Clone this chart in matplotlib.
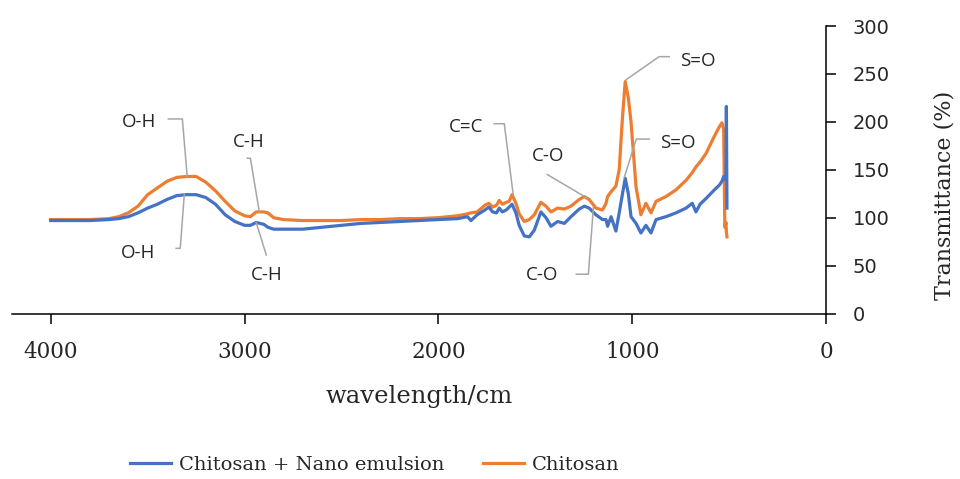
import matplotlib
matplotlib.use("Agg")
import matplotlib.pyplot as plt

# ---- data ----
wavenumber = [4000, 3800, 3700, 3650, 3600, 3550, 3500, 3450, 3400, 3350, 3300, 3250,
              3200, 3150, 3100, 3050, 3000, 2970, 2940, 2920, 2900, 2880, 2850, 2800,
              2700, 2600, 2500, 2400, 2300, 2200, 2100, 2000, 1900, 1850, 1832, 1800,
              1760, 1740, 1720, 1700, 1686, 1670, 1650, 1635, 1620, 1600, 1583, 1557,
              1531, 1505, 1471, 1445, 1419, 1385, 1350, 1316, 1273, 1247, 1222, 1187,
              1153, 1135, 1127, 1109, 1084, 1067, 1050, 1036, 1020, 1006, 980, 955,
              929, 903, 877, 826, 774, 722, 690, 671, 650, 619, 576, 550, 537, 528,
              522, 516, 514, 511]

chitosan = [98, 98, 99, 101, 105, 112, 124, 131, 138, 142, 143, 143,
            137, 128, 117, 107, 102, 101, 106, 106, 106, 105, 100, 98,
            97, 97, 97, 98, 98, 99, 99, 100, 102, 104, 105, 106,
            113, 115, 111, 113, 118, 114, 116, 117, 124, 115, 104, 96,
            98, 103, 116, 112, 106, 110, 109, 112, 119, 122, 119, 110,
            108, 115, 122, 127, 133, 150, 205, 242, 225, 200, 132, 103,
            115, 105, 117, 122, 129, 139, 147, 153, 158, 167, 185, 195, 199, 192,
            90, 95, 85, 80]

chitosan_nano = [97, 97, 98, 99, 101, 105, 110, 114, 119, 123, 124, 124,
                 121, 114, 103, 96, 92, 92, 95, 94, 93, 90, 88, 88,
                 88, 90, 92, 94, 95, 96, 97, 98, 99, 101, 97, 103,
                 108, 111, 106, 105, 110, 106, 108, 111, 114, 105, 92, 81,
                 80, 87, 106, 100, 91, 96, 94, 101, 109, 112, 110, 103,
                 98, 98, 91, 101, 86, 105, 125, 141, 125, 101, 94, 84,
                 92, 84, 98, 101, 105, 110, 115, 106, 114, 120, 129, 134, 138, 143,
                 140, 145, 216, 110]

series_labels = ["Chitosan + Nano emulsion", "Chitosan"]
x_ticks = [4000, 3000, 2000, 1000, 0]
y_ticks = [0, 50, 100, 150, 200, 250, 300]

# annotations: label, text position (wn, T), leader polyline (wn list, T list)
annotations = [
    ("O-H", (3543, 200), [3393, 3321, 3296], [203, 203, 143]),
    ("O-H", (3548, 63), [3353, 3332, 3311], [68, 68, 124]),
    ("C-H", (2976, 179), [2986, 2970, 2924], [162, 162, 106]),
    ("C-H", (2888, 40), [2940, 2888], [95, 61]),
    ("C=C", (1857, 195), [1712, 1660, 1614], [198, 198, 124]),
    ("C-O", (1432, 164), [1438, 1237], [145, 121]),
    ("C-O", (1464, 40), [1288, 1226, 1200], [41, 41, 111]),
    ("S=O", (663, 264), [809, 861, 1031], [268, 268, 244]),
    ("S=O", (767, 178), [912, 979, 1041], [182, 182, 142]),
]

blue = "#4472C4"
orange = "#ED7D31"

fig = plt.figure(figsize=(9.6, 4.79), dpi=100)
W, H = 960, 479
ax = fig.add_axes([12 / W, (H - 313.5) / H, 814 / W, 287.5 / H])

l1, = ax.plot(wavenumber, chitosan_nano, color=blue, lw=2.3, solid_joinstyle="round",
              label=series_labels[0], zorder=3)
l2, = ax.plot(wavenumber, chitosan, color=orange, lw=2.3, solid_joinstyle="round",
              label=series_labels[1], zorder=2)

for txt, (tx, ty), lx, ly in annotations:
    ax.plot(lx, ly, color="#A6A6A6", lw=1.1, zorder=4)
    ax.text(tx, ty, txt, ha="center", va="center", fontsize=13.5,
            family="Open Sans", color="#262626", zorder=5)

ax.set_xlim(4200, 0)
ax.set_ylim(0, 300)
ax.set_xticks(x_ticks)
ax.set_yticks(y_ticks)

for s in ("top", "left"):
    ax.spines[s].set_visible(False)
for s in ("right", "bottom"):
    ax.spines[s].set_linewidth(1.1)
    ax.spines[s].set_color("black")

ax.yaxis.tick_right()
ax.tick_params(axis="y", direction="out", length=7, width=1.1, pad=12,
               labelsize=14, labelcolor="#262626")
ax.tick_params(axis="x", direction="out", length=7, width=1.1, pad=13,
               labelsize=15.5, labelcolor="#262626")
for lab in ax.get_yticklabels():
    lab.set_family("DejaVu Sans")
for lab in ax.get_xticklabels():
    lab.set_family("DejaVu Serif")

ax.set_xlabel("wavelength/cm", family="DejaVu Serif", fontsize=17.5, color="#262626")
ax.xaxis.set_label_coords(0.5, (313.5 - 397) / 287.5)
ax.xaxis.label.set_va("center")
ax.yaxis.set_label_position("right")
ax.set_ylabel("Transmittance (%)", family="DejaVu Serif", fontsize=16, color="#262626",
              rotation=90)
ax.yaxis.set_label_coords((944 - 12) / 814, (313.5 - 195) / 287.5)
ax.yaxis.label.set_va("center")

leg = fig.legend(handles=[l1, l2], loc="center", bbox_to_anchor=(375 / W, 1 - 465 / H),
                 ncol=2, frameon=False, handlelength=2.1, handletextpad=0.4,
                 columnspacing=2.0, prop={"family": "DejaVu Serif", "size": 14})
for t in leg.get_texts():
    t.set_color("#262626")

fig.savefig("out.png", dpi=100)
